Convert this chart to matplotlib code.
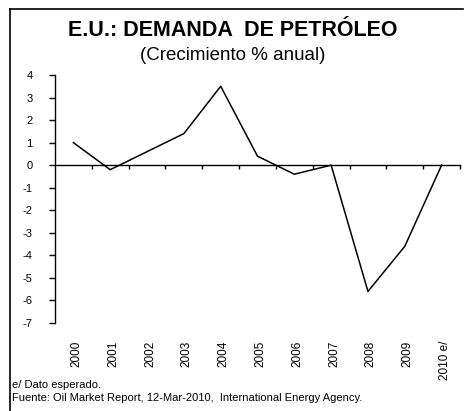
import matplotlib.pyplot as plt
from matplotlib.lines import Line2D

# datos
years = ['2000', '2001', '2002', '2003', '2004', '2005',
         '2006', '2007', '2008', '2009', '2010 e/']
growth = [1.0, -0.2, 0.6, 1.4, 3.5, 0.4, -0.4, 0.0, -5.6, -3.6, 0.0]
yticks = [4, 3, 2, 1, 0, -1, -2, -3, -4, -5, -6, -7]

plt.rcParams['font.family'] = ['Liberation Sans', 'DejaVu Sans']

fig = plt.figure(figsize=(4.66, 4.11), dpi=100)
ax = fig.add_axes([55 / 466, 1 - 323 / 411, 405 / 466, 248 / 411])

x = list(range(len(years)))
ax.plot(x, growth, color='black', lw=1.1)

ax.set_xlim(-0.5, len(years) - 0.5)
ax.set_ylim(-7, 4)

# ejes
ax.spines['top'].set_visible(False)
ax.spines['right'].set_visible(False)
ax.spines['bottom'].set_position(('data', 0))
ax.spines['left'].set_linewidth(1.0)
ax.spines['bottom'].set_linewidth(1.0)

ax.set_yticks(yticks)
ax.set_yticklabels([str(v) for v in yticks])
ax.tick_params(axis='y', direction='out', length=4, width=1, labelsize=8, pad=12)

ax.set_xticks([i - 0.5 for i in range(1, len(years) + 1)])
ax.set_xticklabels([])
ax.tick_params(axis='x', direction='out', length=3, width=1)

# etiquetas de años abajo
trans = ax.get_xaxis_transform()
for i, lab in enumerate(years):
    ax.text(i + 0.08, -18 / 248, lab, transform=trans, rotation=90,
            ha='center', va='top', fontsize=8.5)

# titulo
fig.text(0.5, 1 - 31 / 411, 'E.U.: DEMANDA  DE PETRÓLEO', ha='center', va='center',
         fontsize=15.5, fontweight='bold')
fig.text(0.5, 1 - 55 / 411, '(Crecimiento % anual)', ha='center', va='center', fontsize=13.5)

# notas
fig.text(12 / 466, 1 - 385 / 411, 'e/ Dato esperado.', ha='left', va='center', fontsize=8)
fig.text(12 / 466, 1 - 398 / 411,
         'Fuente: Oil Market Report, 12-Mar-2010,  International Energy Agency.',
         ha='left', va='center', fontsize=8)

# marco
fig.add_artist(Line2D([10 / 466, 10 / 466], [0, 1 - 9 / 411], transform=fig.transFigure,
                      color='black', lw=1.2))
fig.add_artist(Line2D([10 / 466, 463 / 466], [1 - 9 / 411, 1 - 9 / 411],
                      transform=fig.transFigure, color='black', lw=1.2))

fig.savefig('out.png', dpi=100)
